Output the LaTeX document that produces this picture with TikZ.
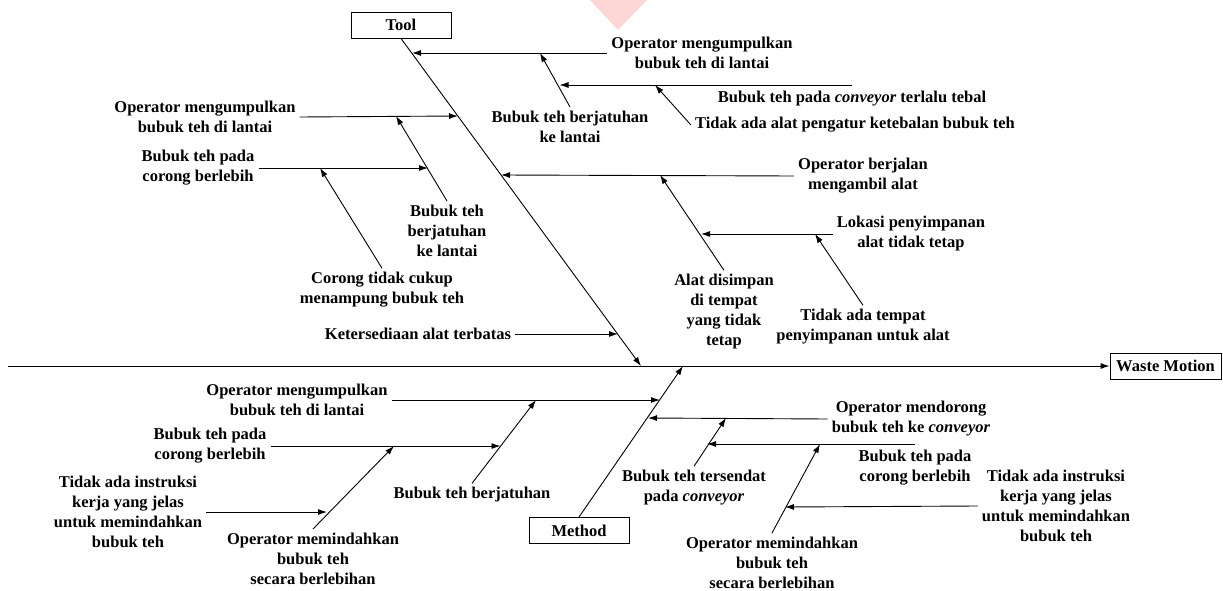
\documentclass[tikz,border=0pt]{standalone}
\usepackage{fontspec}
\setmainfont{Liberation Serif}
\usepackage{tikz}
\usetikzlibrary{arrows.meta}
\definecolor{wmpink}{RGB}{255,214,214}
\tikzset{
  fb_txt/.style = {align=center, inner sep=4pt, fill=white,
    font=\fontsize{16.5}{20}\selectfont\bfseries},% fishbone, label
  fb_box/.style = {fb_txt, draw=black, line width=0.9pt, inner sep=0pt,
    minimum width=100pt, minimum height=26pt},% fishbone, category box
  fb_arr/.style = {line width=0.9pt, -{Latex[length=9pt,width=6pt]}},% fishbone, arrow
  fb_bone/.style = {line width=0.9pt}% fishbone, plain line
}

\begin{document}
\begin{tikzpicture}[x=1pt, y=-1pt]
\useasboundingbox (0,0) rectangle (1223,591);
\fill[wmpink] (590,0) -- (647,0) -- (618,30) -- cycle;
% boxes and spine
\node [fb_box] (tool) at (401,25) {Tool};
\node [fb_box] (method) at (579,530.5) {Method};
\node [fb_box, minimum width=111pt] (waste) at (1165.5,366) {Waste Motion};
\coordinate (tail) at (8,366);
\coordinate (head) at (641,366);
\coordinate (mhead) at (683,366);
\draw [fb_arr] (tail) -- (waste);
\draw [fb_arr] (tool.south) -- (head);
\draw [fb_arr] (method.north) -- (mhead);

% Tool, right side
\node [fb_txt] (t1) at (702,53) {Operator mengumpulkan\\bubuk teh di lantai};
\node [fb_txt] (t1a) at (570,127) {Bubuk teh berjatuhan\\ke lantai};
\node [fb_txt] (t1b) at (852,99) {Bubuk teh pada \textit{conveyor} terlalu tebal};
\node [fb_txt] (t1c) at (855,125) {Tidak ada alat pengatur ketebalan bubuk teh};
\coordinate (t1_on) at (412,53);
\coordinate (t1a_on) at (540,53);
\coordinate (t1b_end) at (852,85);
\coordinate (t1b_on) at (559.5,85);
\coordinate (t1c_on) at (655,85);
\draw [fb_arr] (t1.west) -- (t1_on);
\draw [fb_arr] (t1a.north) -- (t1a_on);
\draw [fb_arr] (t1b_end) -- (t1b_on);
\draw [fb_arr] (t1c.west) -- (t1c_on);

\node [fb_txt] (t2) at (863,176) {Operator berjalan\\mengambil alat};
\node [fb_txt] (t2a) at (724,312) {Alat disimpan\\di tempat\\yang tidak\\tetap};
\node [fb_txt] (t2b) at (911,234) {Lokasi penyimpanan\\alat tidak tetap};
\node [fb_txt] (t2c) at (863,327) {Tidak ada tempat\\penyimpanan untuk alat};
\coordinate (t2_on) at (501,175);
\coordinate (t2a_on) at (660,175);
\coordinate (t2b_on) at (701,234);
\coordinate (t2c_on) at (815,234);
\draw [fb_arr] (t2.west) -- (t2_on);
\draw [fb_arr] (t2a.north) -- (t2a_on);
\draw [fb_arr] (t2b.west) -- (t2b_on);
\draw [fb_arr] (t2c.north) -- (t2c_on);

\node [fb_txt] (t3) at (418,334) {Ketersediaan alat terbatas};
\coordinate (t3_on) at (618,334);
\draw [fb_arr] (t3.east) -- (t3_on);

% Tool, left side
\node [fb_txt] (l1) at (205,117) {Operator mengumpulkan\\bubuk teh di lantai};
\node [fb_txt] (l1a) at (447,231) {Bubuk teh\\berjatuhan\\ke lantai};
\node [fb_txt] (l1b) at (198,168) {Bubuk teh pada\\corong berlebih};
\node [fb_txt] (l1c) at (382,290) {Corong tidak cukup\\menampung bubuk teh};
\coordinate (l1_on) at (458,116);
\coordinate (l1a_on) at (396,116);
\coordinate (l1b_on) at (428,168);
\coordinate (l1c_on) at (320,168);
\draw [fb_arr] (l1.east) -- (l1_on);
\draw [fb_arr] (l1a.north) -- (l1a_on);
\draw [fb_arr] (l1b.east) -- (l1b_on);
\draw [fb_arr] (l1c.north) -- (l1c_on);

% Method, left side
\node [fb_txt] (b1) at (297,400) {Operator mengumpulkan\\bubuk teh di lantai};
\node [fb_txt] (b1a) at (472,495) {Bubuk teh berjatuhan};
\node [fb_txt] (b1b) at (210,446) {Bubuk teh pada\\corong berlebih};
\node [fb_txt] (b1c) at (313,559) {Operator memindahkan\\bubuk teh\\secara berlebihan};
\node [fb_txt] (b1d) at (128,512) {Tidak ada instruksi\\kerja yang jelas\\untuk memindahkan\\bubuk teh};
\coordinate (b1_on) at (660,400);
\coordinate (b1a_on) at (536,400);
\coordinate (b1b_on) at (500.5,446);
\coordinate (b1c_on) at (394,446);
\coordinate (b1d_on) at (327,512);
\draw [fb_arr] (b1.east) -- (b1_on);
\draw [fb_arr] (b1a.north) -- (b1a_on);
\draw [fb_arr] (b1b.east) -- (b1b_on);
\draw [fb_arr] (b1c.north) -- (b1c_on);
\draw [fb_arr] (b1d.east) -- (b1d_on);

% Method, right side
\node [fb_txt] (r1) at (911,419) {Operator mendorong\\bubuk teh ke \textit{conveyor}};
\node [fb_txt] (r1a) at (694,488) {Bubuk teh tersendat\\pada \textit{conveyor}};
\node [fb_txt] (r1b) at (915,468) {Bubuk teh pada\\corong berlebih};
\node [fb_txt] (r1c) at (772,563) {Operator memindahkan\\bubuk teh\\secara berlebihan};
\node [fb_txt] (r1d) at (1056,506) {Tidak ada instruksi\\kerja yang jelas\\untuk memindahkan\\bubuk teh};
\coordinate (r1_on) at (648,418);
\coordinate (r1a_on) at (726,418);
\coordinate (r1b_end) at (915,444);
\coordinate (r1b_on) at (707,444);
\coordinate (r1c_on) at (820,444);
\coordinate (r1d_on) at (785,507);
\draw [fb_arr] (r1.west) -- (r1_on);
\draw [fb_arr] (r1a.north) -- (r1a_on);
\draw [fb_arr] (r1b_end) -- (r1b_on);
\draw [fb_arr] (r1c.north) -- (r1c_on);
\draw [fb_arr] (r1d.west) -- (r1d_on);
\end{tikzpicture}
\end{document}
